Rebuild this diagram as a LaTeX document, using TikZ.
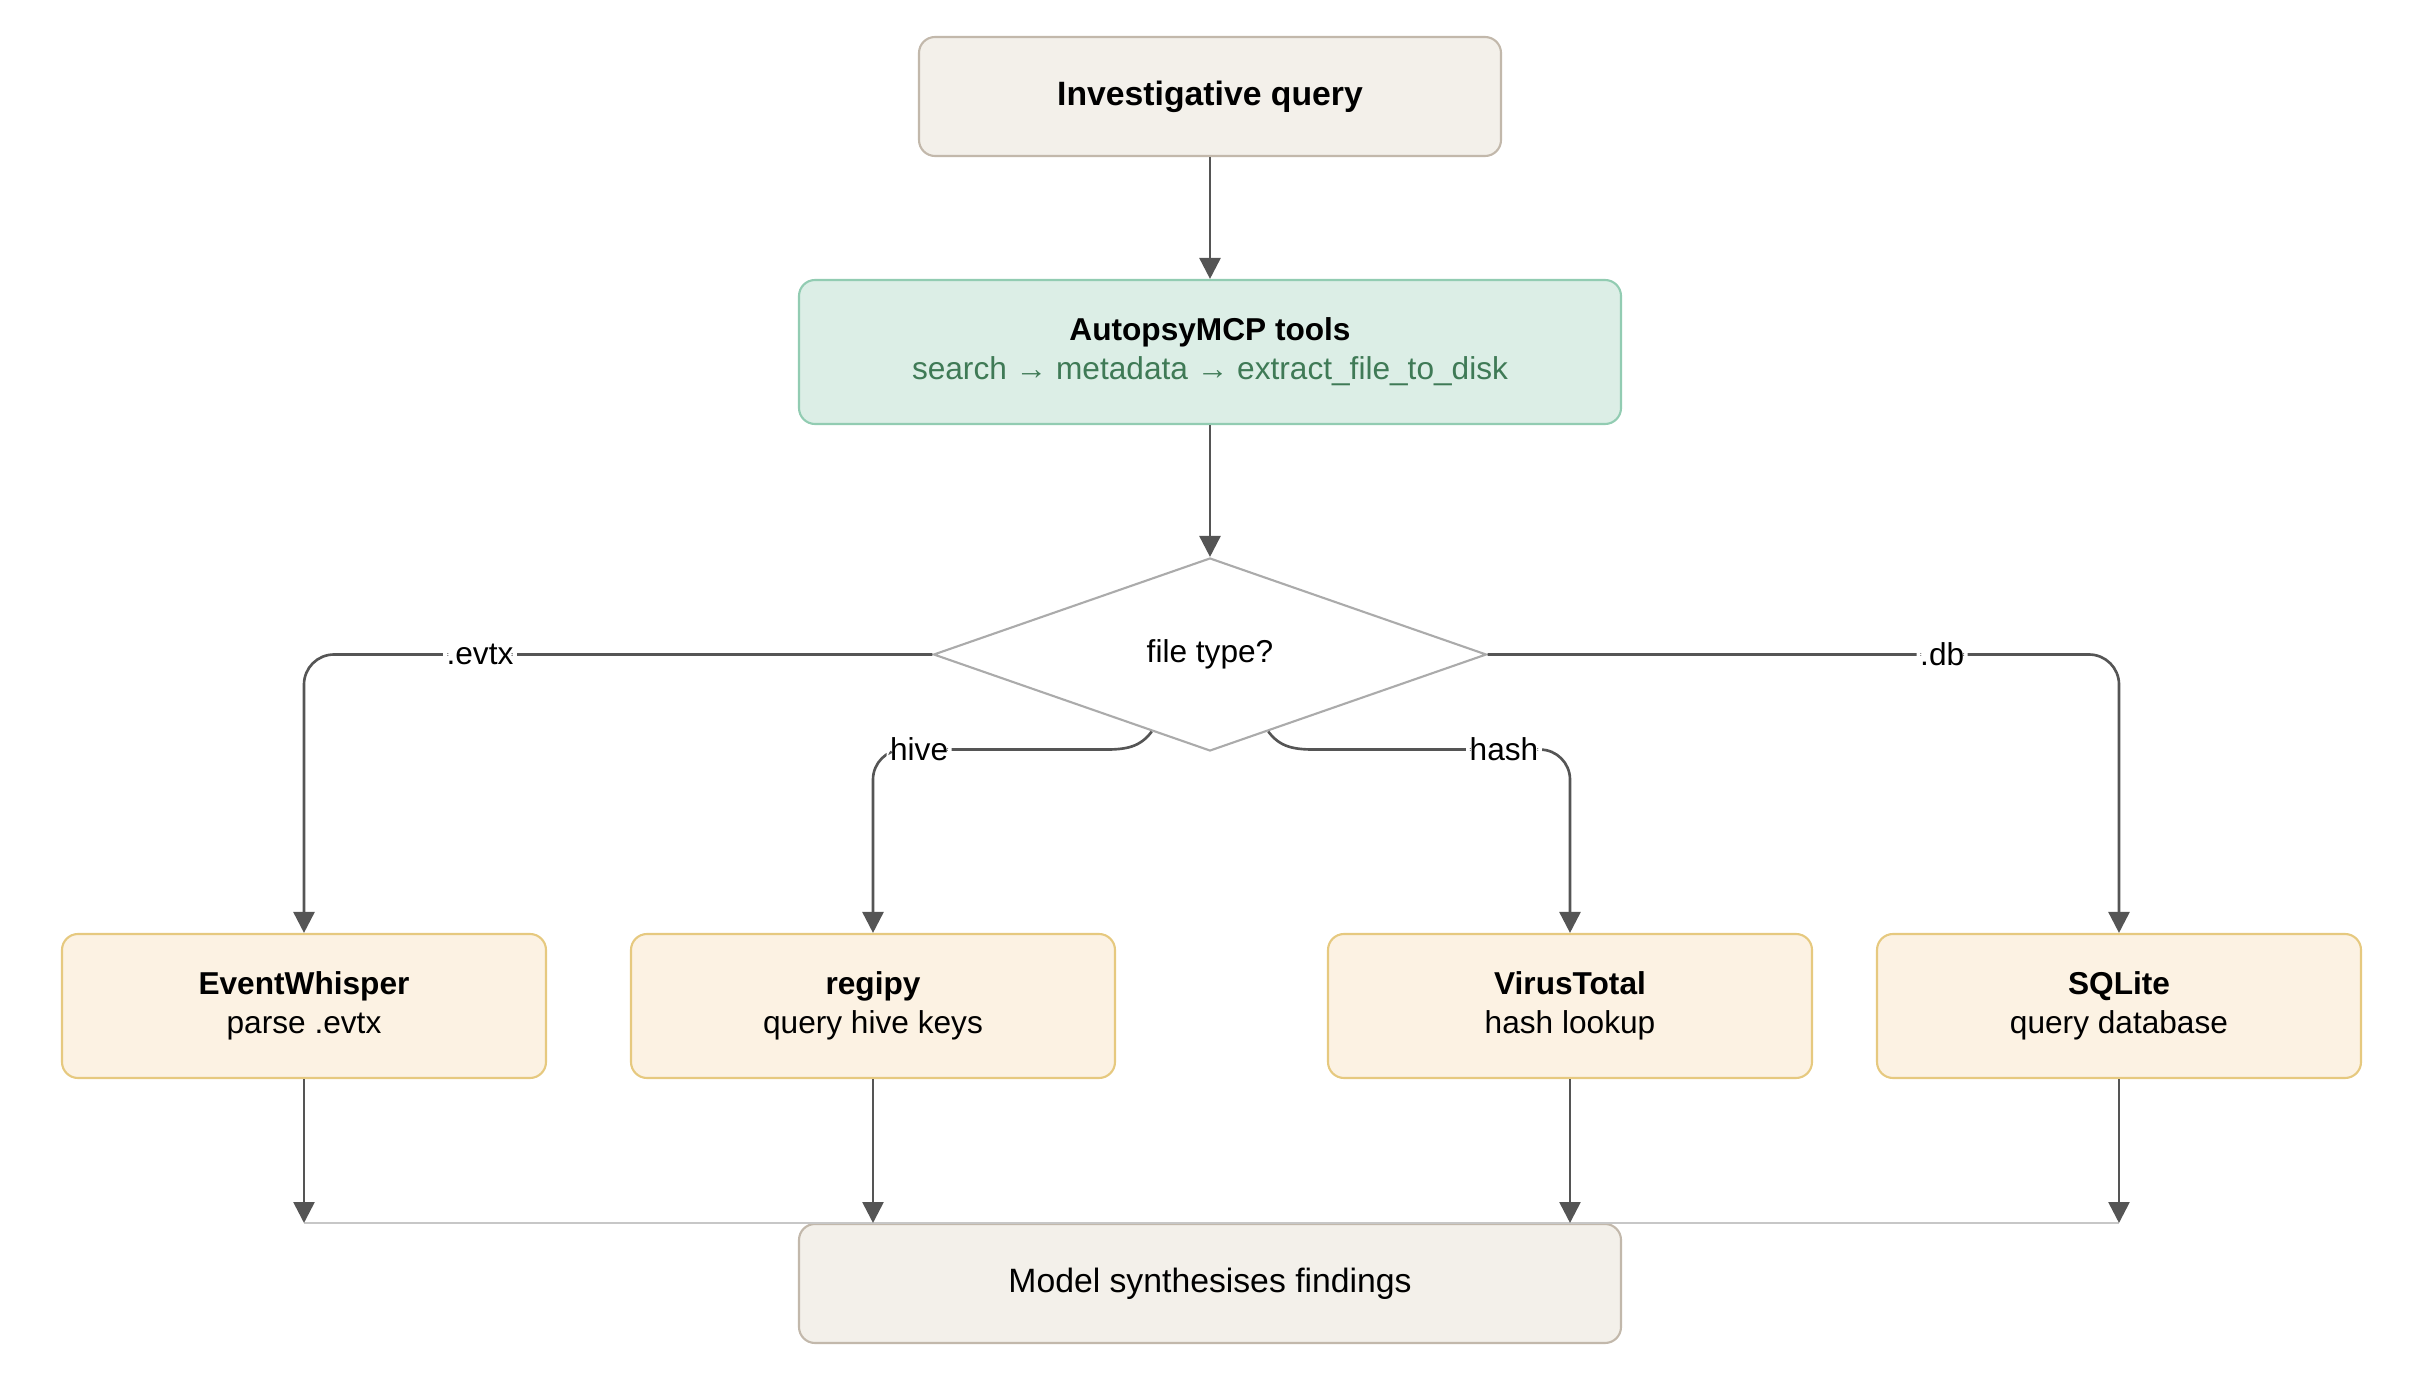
\documentclass[tikz,border=0pt]{standalone}
\usepackage{fontspec}
\setmainfont{Liberation Sans}
\usetikzlibrary{shapes.geometric,arrows.meta,calc}

\definecolor{stonefill}{HTML}{F3F0EA}
\definecolor{stoneline}{HTML}{C2B8AB}
\definecolor{mintfill}{HTML}{DCEEE6}
\definecolor{mintline}{HTML}{92CCB2}
\definecolor{minttext}{HTML}{3F7A56}
\definecolor{sandfill}{HTML}{FCF2E3}
\definecolor{sandline}{HTML}{E6C97F}
\definecolor{wire}{HTML}{555555}

\begin{document}
\begin{tikzpicture}[
    every node/.style={font=\fontsize{9}{11}\selectfont},
    qbox/.style={rectangle,rounded corners=0.16cm,draw=stoneline,fill=stonefill,
      line width=0.6pt,minimum width=5.82cm,minimum height=1.19cm,
      font=\fontsize{9.6}{11}\selectfont},
    tbox/.style={rectangle,rounded corners=0.16cm,draw=mintline,fill=mintfill,
      line width=0.6pt,minimum width=8.22cm,minimum height=1.44cm,align=center},
    xbox/.style={rectangle,rounded corners=0.16cm,draw=sandline,fill=sandfill,
      line width=0.6pt,minimum width=4.84cm,minimum height=1.44cm,align=center},
    dbox/.style={diamond,draw=black!33,fill=white,line width=0.6pt,inner sep=0pt,
      minimum width=5.53cm,minimum height=1.93cm},
    ln/.style={draw=wire,line width=0.75pt,-{Triangle[length=2.1mm,width=2.1mm]}},
    lbl/.style={fill=white,inner sep=1pt}]
  \useasboundingbox (0,0) rectangle (24.24,-13.86);
  % top of the flow
  \node[qbox] (query) at (12.10,-0.965) {\textbf{Investigative query}};
  \node[tbox] (tools) at (12.10,-3.52)
    {\textbf{AutopsyMCP tools}\\
     \textcolor{minttext}{search → metadata → extract\_file\_to\_disk}};
  \node[dbox] (ftype) at (12.10,-6.545) {file type?};
  \draw[ln] (query) -- (tools);
  \draw[ln] (tools) -- (ftype);
  % the four tools
  \foreach \n/\x/\t/\s in {ew/3.04/EventWhisper/parse .evtx,
      rg/8.73/regipy/query hive keys,
      vt/15.70/VirusTotal/hash lookup,
      sq/21.19/SQLite/query database}{
    \node[xbox] (\n) at (\x,-10.06) {\textbf{\t}\\ \s};
    \coordinate (\n j) at (\x,-12.23);
  }
  % branches
  \draw[ln,rounded corners=0.3cm] (ftype.west) -| node[lbl,pos=0.36] {.evtx} (ew.north);
  \draw[ln,rounded corners=0.3cm] (ftype.east) -| node[lbl,pos=0.36] {.db} (sq.north);
  \draw[ln] ($(ftype.west)!0.79!(ftype.south)$)
    .. controls +(-0.12,-0.16) and +(0.22,0) .. ++(-0.48,-0.18)
    [rounded corners=0.3cm] -| node[lbl,pos=0.40] {hive} (rg.north);
  \draw[ln] ($(ftype.east)!0.79!(ftype.south)$)
    .. controls +(0.12,-0.16) and +(-0.22,0) .. ++(0.48,-0.18)
    [rounded corners=0.3cm] -| node[lbl,pos=0.37] {hash} (vt.north);
  % merge
  \node[qbox,minimum width=8.22cm] (model) at (12.10,-12.835) {Model synthesises findings};
  \draw[black!22,line width=0.75pt] (ewj) -- (sqj);
  \foreach \n in {ew,rg,vt,sq}{
    \draw[ln] (\n) -- (\n j);
  }
\end{tikzpicture}
\end{document}
